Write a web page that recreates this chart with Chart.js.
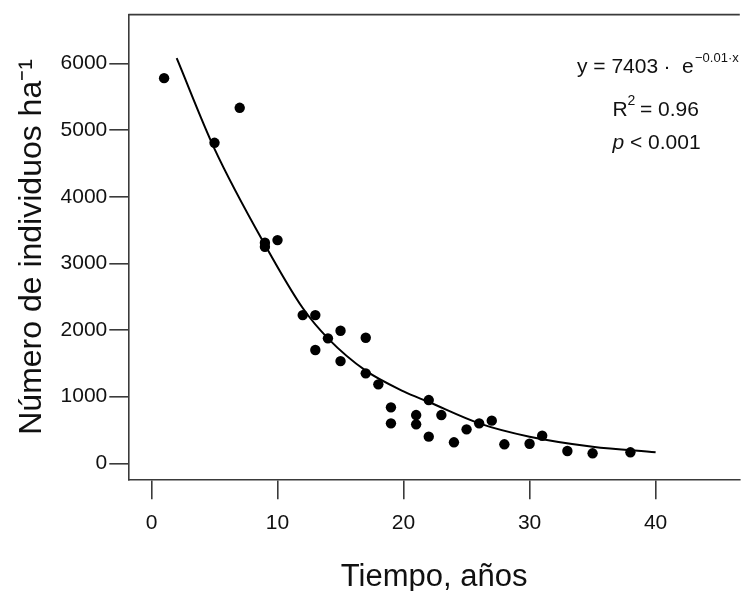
<!DOCTYPE html>
<html>
<head>
<meta charset="utf-8">
<title>Número de individuos vs tiempo</title>
<script src="https://cdn.jsdelivr.net/npm/chart.js@4.4.1/dist/chart.umd.min.js"></script>
<style>
  html, body { margin: 0; padding: 0; background: #fff; }
  #wrap { width: 745px; height: 591px; }
</style>
</head>
<body>
<div id="wrap"><canvas id="chart"></canvas></div>
<script>
// observed plots: age (years) and density (individuals per ha)
const years = [1, 5, 7, 9, 9, 10, 12, 13, 13, 14, 15, 15, 17, 17, 18, 19, 19, 21, 21, 22, 22, 23, 24, 25, 26, 27, 28, 30, 31, 33, 35, 38];
const density = [5780, 4810, 5335, 3310, 3250, 3350, 2224, 2224, 1700, 1875, 1989, 1534, 1884, 1350, 1185, 840, 600, 724, 585, 949, 400, 724, 315, 510, 600, 640, 285, 294, 414, 185, 150, 165];

// fitted curve
const fitX = [2, 5, 9, 12, 14, 17, 20, 22, 26, 30, 35, 40];
const fitY = [6080, 4720, 3280, 2330, 1875, 1390, 1080, 920, 600, 400, 250, 165];

const xTicks = [0, 10, 20, 30, 40];
const yTicks = [0, 1000, 2000, 3000, 4000, 5000, 6000];

const FONT = "'Liberation Sans', Arial, sans-serif";
const INK = '#111';
const FRAME = '#3a3a3a';

// text block in the top right corner + top edge of the box
const annotations = {
  id: 'annotations',
  afterDraw(chart) {
    const ctx = chart.ctx;
    const area = chart.chartArea;
    ctx.save();
    ctx.strokeStyle = FRAME;
    ctx.lineWidth = 1.6;
    ctx.beginPath();
    ctx.moveTo(area.left, area.top);
    ctx.lineTo(area.right, area.top);
    ctx.stroke();

    ctx.fillStyle = INK;
    ctx.textBaseline = 'middle';
    ctx.textAlign = 'left';
    const big = '21px ' + FONT;
    const small = '13px ' + FONT;
    const sup = '14px ' + FONT;

    // y = 7403 · e^(-0.01·x)
    ctx.font = big;
    ctx.fillText('y = 7403', 577, 67);
    ctx.textAlign = 'center';
    ctx.fillText('·', 667, 67);
    ctx.textAlign = 'left';
    ctx.fillText('e', 682, 67);
    ctx.font = small;
    ctx.fillText('\u22120.01\u00b7x', 695, 58);

    // R^2 = 0.96
    ctx.font = big;
    ctx.fillText('R', 612.5, 110);
    ctx.font = sup;
    ctx.fillText('2', 627.5, 101);
    ctx.font = big;
    ctx.fillText('= 0.96', 640, 110);

    // p < 0.001
    ctx.font = 'italic ' + big;
    ctx.fillText('p', 612.5, 143);
    ctx.font = big;
    ctx.fillText('< 0.001', 630, 143);
    ctx.restore();
  }
};

const ctx = document.getElementById('chart').getContext('2d');
new Chart(ctx, {
  type: 'scatter',
  data: {
    datasets: [
      {
        label: 'Observado',
        data: years.map((x, i) => ({ x: x, y: density[i] })),
        backgroundColor: '#000',
        borderColor: '#000',
        pointRadius: 5.2,
        pointBorderWidth: 0,
        order: 2
      },
      {
        label: 'Ajuste',
        type: 'line',
        data: fitX.map((x, i) => ({ x: x, y: fitY[i] })),
        borderColor: '#000',
        borderWidth: 2,
        pointRadius: 0,
        fill: false,
        cubicInterpolationMode: 'monotone',
        order: 1
      }
    ]
  },
  options: {
    responsive: true,
    maintainAspectRatio: false,
    animation: false,
    layout: { padding: { top: 14, left: 0, right: 0, bottom: 0 } },
    plugins: {
      legend: { display: false },
      tooltip: { enabled: false }
    },
    scales: {
      x: {
        type: 'linear',
        min: -1.84,
        max: 46.68,
        afterBuildTicks: scale => { scale.ticks = xTicks.map(v => ({ value: v })); },
        afterFit: scale => { scale.height = 111.7; },
        grid: { drawOnChartArea: false, drawTicks: true, tickLength: 20, color: FRAME, lineWidth: 1.6 },
        border: { display: true, color: FRAME, width: 1.6 },
        ticks: { color: INK, padding: 11, maxRotation: 0, font: { family: FONT, size: 21 }, callback: v => String(v) },
        title: {
          display: true,
          text: 'Tiempo, años',
          color: INK,
          font: { family: FONT, size: 31 },
          padding: { top: 0, bottom: -5 }
        }
      },
      y: {
        type: 'linear',
        min: -240,
        max: 6734,
        afterBuildTicks: scale => { scale.ticks = yTicks.map(v => ({ value: v })); },
        afterFit: scale => { scale.width = 128.3; },
        grid: { drawOnChartArea: false, drawTicks: true, tickLength: 19, color: FRAME, lineWidth: 1.6 },
        border: { display: true, color: FRAME, width: 1.6 },
        ticks: { color: INK, padding: 2, font: { family: FONT, size: 21 }, callback: v => String(v) },
        title: {
          display: true,
          text: 'Número de individuos ha\u207b\u00b9',
          color: INK,
          font: { family: FONT, size: 32 },
          padding: { top: 13, bottom: 0 }
        }
      }
    }
  },
  plugins: [annotations]
});
</script>
</body>
</html>
